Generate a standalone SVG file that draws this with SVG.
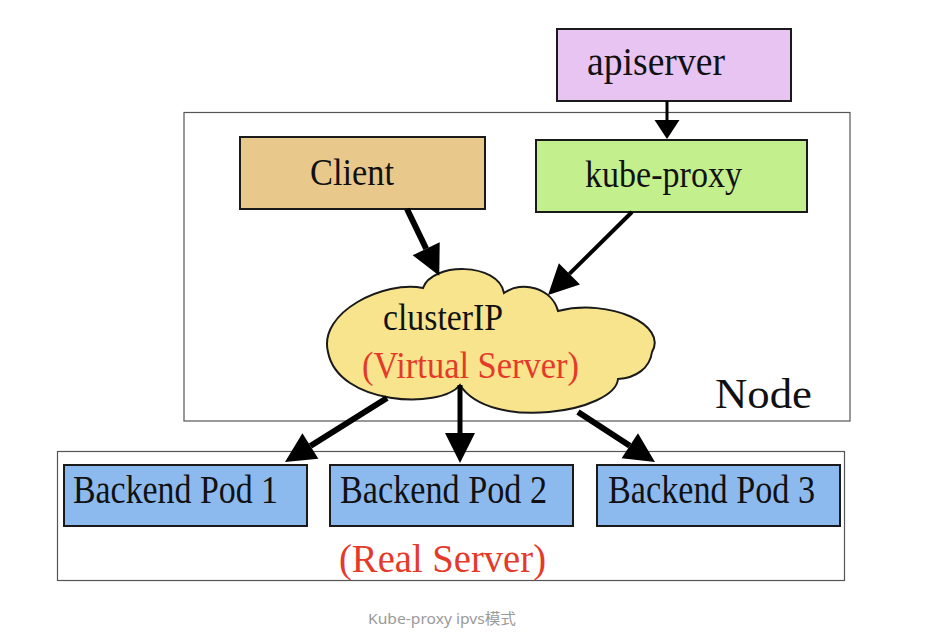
<svg xmlns="http://www.w3.org/2000/svg" width="930" height="639" viewBox="0 0 930 639">
<style>
.box{stroke:#1a1a1a;stroke-width:2}
.frame{fill:none;stroke:#555;stroke-width:1.2}
.t{font-family:"Liberation Serif","Times New Roman",serif;fill:#111}
.red{fill:#e53a2a}
.conn{stroke:#000;fill:none}
.cap{font-family:"Noto Sans","Noto Sans CJK SC",sans-serif;font-size:15px;fill:#9a9a9a}
</style>
<defs>
<marker id="head" markerUnits="userSpaceOnUse" markerWidth="30" markerHeight="30" refX="0" refY="15" orient="auto" overflow="visible">
<path d="M0,0 L30,15 L0,30 Z" fill="#000"/>
</marker>
<marker id="headS" markerUnits="userSpaceOnUse" markerWidth="19" markerHeight="25" refX="0" refY="12.5" orient="auto" overflow="visible">
<path d="M0,0 L19,12.5 L0,25 Z" fill="#000"/>
</marker>
</defs>
<rect width="930" height="639" fill="#fff"/>

<g id="node-frame">
<rect class="frame" x="184" y="112.5" width="666" height="308.5"/>
<text class="t" x="715" y="408" font-size="43" textLength="97" lengthAdjust="spacingAndGlyphs">Node</text>
</g>
<g id="real-server-frame">
<rect class="frame" x="57.5" y="451.5" width="787" height="129"/>
<text class="t red" x="339" y="572" font-size="39" textLength="207" lengthAdjust="spacingAndGlyphs">(Real Server)</text>
</g>

<g id="apiserver">
<rect class="box" x="557" y="29" width="234" height="72" fill="#e8c4f2"/>
<text class="t" x="587" y="75" font-size="39" textLength="138" lengthAdjust="spacingAndGlyphs">apiserver</text>
</g>
<g id="client">
<rect class="box" x="240" y="137" width="245" height="72" fill="#e9c98b"/>
<text class="t" x="310" y="185" font-size="37" textLength="84" lengthAdjust="spacingAndGlyphs">Client</text>
</g>
<g id="kube-proxy">
<rect class="box" x="536" y="140" width="271" height="72" fill="#c4ef8d"/>
<text class="t" x="585" y="187" font-size="38" textLength="157" lengthAdjust="spacingAndGlyphs">kube-proxy</text>
</g>
<g id="clusterIP">
<path class="box" fill="#f8e48c" d="M423,288 C432,262 498,262 504,293 C522,280 552,288 558,311 C610,298 668,325 652,352 C650,368 636,378 618,379 C615,412 490,432 460,385 C440,410 338,405 328,352 C318,312 385,280 423,288 Z"/>
<text class="t" x="383" y="330" font-size="37" textLength="120" lengthAdjust="spacingAndGlyphs">clusterIP</text>
<text class="t red" x="362" y="378" font-size="38" textLength="217" lengthAdjust="spacingAndGlyphs">(Virtual Server)</text>
</g>
<g id="pod1">
<rect class="box" x="64" y="465" width="243" height="61" fill="#8dbaee"/>
<text class="t" x="73" y="503" font-size="40" textLength="205" lengthAdjust="spacingAndGlyphs">Backend Pod 1</text>
</g>
<g id="pod2">
<rect class="box" x="330" y="465" width="243" height="61" fill="#8dbaee"/>
<text class="t" x="340" y="503" font-size="40" textLength="207" lengthAdjust="spacingAndGlyphs">Backend Pod 2</text>
</g>
<g id="pod3">
<rect class="box" x="597" y="465" width="243" height="61" fill="#8dbaee"/>
<text class="t" x="608" y="503" font-size="40" textLength="207" lengthAdjust="spacingAndGlyphs">Backend Pod 3</text>
</g>

<g id="connectors">
<line class="conn" x1="667" y1="101" x2="667" y2="120" stroke-width="3" marker-end="url(#headS)"/>
<line class="conn" x1="407" y1="209" x2="426.2" y2="248.7" stroke-width="6" marker-end="url(#head)"/>
<line class="conn" x1="632" y1="212" x2="569.4" y2="273.9" stroke-width="4" marker-end="url(#head)"/>
<line class="conn" x1="387" y1="398" x2="310.4" y2="446" stroke-width="6" marker-end="url(#head)"/>
<line class="conn" x1="460" y1="385" x2="460" y2="433" stroke-width="5" marker-end="url(#head)"/>
<line class="conn" x1="578" y1="412" x2="629.8" y2="445.7" stroke-width="6" marker-end="url(#head)"/>
</g>

<text class="cap" x="368" y="624" textLength="148" lengthAdjust="spacingAndGlyphs">Kube-proxy ipvs模式</text>
</svg>
